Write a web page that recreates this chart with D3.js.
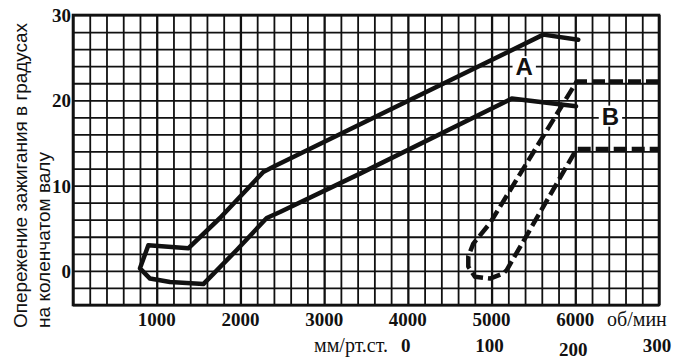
<!DOCTYPE html>
<html>
<head>
<meta charset="utf-8">
<script src="https://cdn.jsdelivr.net/npm/d3@7"></script>
<style>
  body { margin: 0; background: #fff; }
  svg { display: block; }
  .tick-label { font-family: "Liberation Serif", serif; font-weight: bold; font-size: 19px; fill: #111; }
  .unit { font-family: "Liberation Serif", serif; font-size: 20px; fill: #111; }
  .title { font-family: "Liberation Sans", sans-serif; font-size: 19px; fill: #111; }
  .curve-label { font-family: "Liberation Sans", sans-serif; font-weight: bold; font-size: 24px; fill: #111; }
</style>
</head>
<body>
<svg id="chart" width="680" height="362"></svg>
<script>
// axis ticks
const rpmTicks = [1000, 2000, 3000, 4000, 5000, 6000];
const vacuumTicks = [0, 100, 200, 300];
const degTicks = [0, 10, 20, 30];

// curve A (centrifugal advance band), traced round the outline
const curveARpm = [6036, 5618, 2393, 2273, 1756, 1377, 900, 800, 920, 1159, 1557, 1956, 2314, 2473, 3429, 5241, 5659, 6009];
const curveADeg = [27.1, 27.7, 12.2, 11.6, 6.2, 2.65, 3.0, 0.3, -0.9, -1.3, -1.55, 2.45, 6.2, 6.9, 11.4, 20.2, 19.7, 19.3];

// curve B (vacuum advance band), dashed
const curveBRpm = [7000, 6017, 4981, 4782, 4722, 4722, 4802, 4981, 5140, 5181, 6017, 7000];
const curveBDeg = [22.2, 22.2, 5.6, 3.2, 1.7, 0.5, -0.7, -0.9, -0.3, 0.1, 14.3, 14.3];

const svg = d3.select('#chart');
const plotLeft = 73, plotRight = 659, plotTop = 15, plotBottom = 305;

const x = d3.scaleLinear().domain([0, 7000]).range([plotLeft, plotRight]);
const y = d3.scaleLinear().domain([-4, 30]).range([plotBottom, plotTop]);
const xVac = d3.scaleLinear().domain([0, 300]).range([x(4000), x(7000)]);

// grid
const gridX = svg.append('g')
  .attr('transform', `translate(0,${plotBottom})`)
  .call(d3.axisBottom(x).tickValues(d3.range(0, 7001, 200)).tickSize(-(plotBottom - plotTop)).tickFormat(''));
const gridY = svg.append('g')
  .attr('transform', `translate(${plotLeft},0)`)
  .call(d3.axisLeft(y).tickValues(d3.range(-4, 31, 2)).tickSize(-(plotRight - plotLeft)).tickFormat(''));

[gridX, gridY].forEach((g) => {
  g.select('.domain').remove();
  g.selectAll('line').attr('stroke', '#111').attr('stroke-width', 1.8);
});
gridX.selectAll('line').filter((d) => d % 1000 === 0).attr('stroke-width', 2.3);

svg.append('rect')
  .attr('x', plotLeft).attr('y', plotTop)
  .attr('width', plotRight - plotLeft).attr('height', plotBottom - plotTop)
  .attr('fill', 'none').attr('stroke', '#111').attr('stroke-width', 2.6);

// tick labels
svg.selectAll('.rpm-label')
  .data(rpmTicks)
  .join('text')
  .attr('class', 'tick-label')
  .attr('x', (d) => x(d))
  .attr('y', 326)
  .attr('text-anchor', 'middle')
  .text((d) => d);

svg.selectAll('.vac-label')
  .data(vacuumTicks)
  .join('text')
  .attr('class', 'tick-label')
  .attr('x', (d) => xVac(d) - 2)
  .attr('y', (d) => d === 200 ? 356 : 352)
  .attr('text-anchor', 'middle')
  .text((d) => d);

svg.selectAll('.deg-label')
  .data(degTicks)
  .join('text')
  .attr('class', 'tick-label')
  .attr('x', 71)
  .attr('y', (d) => y(d) + 7)
  .attr('text-anchor', 'end')
  .text((d) => d);

svg.append('text').attr('class', 'unit')
  .attr('x', 607).attr('y', 326).text('об/мин');
svg.append('text').attr('class', 'unit')
  .attr('x', 388).attr('y', 352).attr('text-anchor', 'end').text('мм/рт.ст.');

// y title, two lines
svg.append('text').attr('class', 'title')
  .attr('transform', 'translate(27,328) rotate(-90)')
  .attr('textLength', 305).attr('lengthAdjust', 'spacingAndGlyphs')
  .text('Опережение зажигания в градусах');
svg.append('text').attr('class', 'title')
  .attr('transform', 'translate(50,328) rotate(-90)')
  .attr('textLength', 176).attr('lengthAdjust', 'spacingAndGlyphs')
  .text('на коленчатом валу');

// curves
const line = d3.line().x((d) => x(d[0])).y((d) => y(d[1]));

svg.append('path')
  .attr('d', line(d3.zip(curveARpm, curveADeg)))
  .attr('fill', 'none').attr('stroke', '#111')
  .attr('stroke-width', 4.5).attr('stroke-linejoin', 'round').attr('stroke-linecap', 'round');

svg.append('path')
  .attr('d', line(d3.zip(curveBRpm, curveBDeg)))
  .attr('fill', 'none').attr('stroke', '#111')
  .attr('stroke-width', 4.5).attr('stroke-dasharray', '13,5').attr('stroke-linejoin', 'round');

// curve letters on white patches
function letter(txt, rpm, deg) {
  const g = svg.append('g');
  const bg = g.append('rect').attr('fill', '#fff');
  const t = g.append('text').attr('class', 'curve-label')
    .attr('x', x(rpm)).attr('y', y(deg) + 9)
    .attr('text-anchor', 'middle').text(txt);
  const b = t.node().getBBox();
  bg.attr('x', b.x - 3).attr('y', b.y + 3).attr('width', b.width + 6).attr('height', b.height - 6);
}
letter('A', 5390, 24.0);
letter('B', 6420, 18.2);
</script>
</body>
</html>
